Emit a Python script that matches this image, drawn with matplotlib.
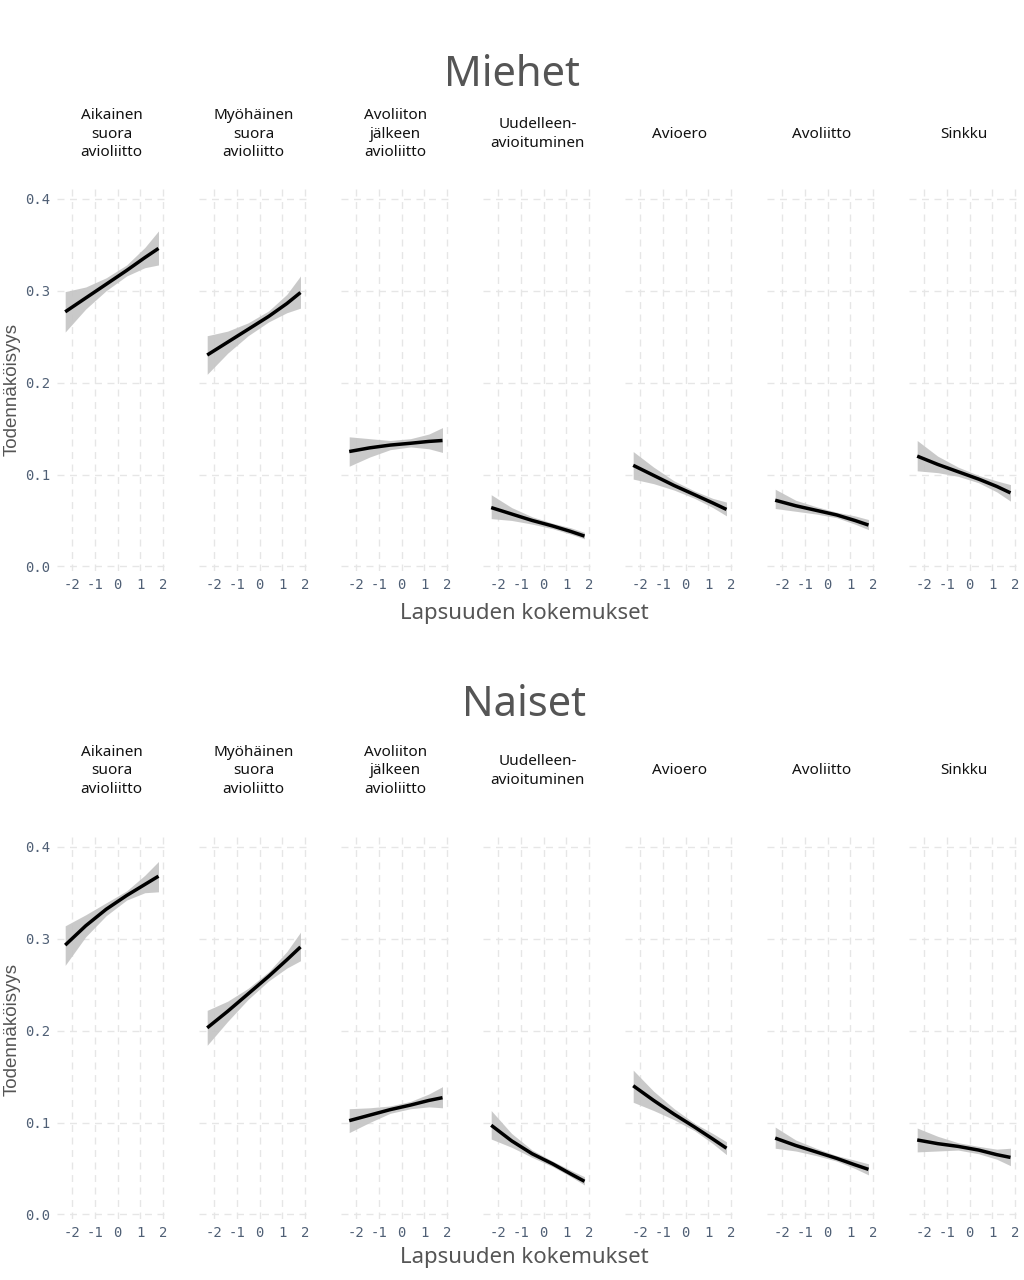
import numpy as np
import matplotlib
matplotlib.use('Agg')
import matplotlib.pyplot as plt

plt.rcParams['axes.unicode_minus'] = False

categories = ['Aikainen\nsuora\navioliitto', 'Myöhäinen\nsuora\navioliitto',
              'Avoliiton\njälkeen\navioliitto', 'Uudelleen-\navioituminen',
              'Avioero', 'Avoliitto', 'Sinkku']

x_vals = [-2.3, -1.4, -0.5, 0.4, 1.2, 1.8]

men_fit = [
    [0.277, 0.292, 0.307, 0.322, 0.336, 0.346],
    [0.230, 0.244, 0.258, 0.272, 0.286, 0.298],
    [0.125, 0.129, 0.132, 0.134, 0.136, 0.137],
    [0.064, 0.057, 0.050, 0.044, 0.038, 0.033],
    [0.110, 0.099, 0.088, 0.078, 0.069, 0.062],
    [0.072, 0.066, 0.061, 0.056, 0.050, 0.045],
    [0.120, 0.111, 0.103, 0.095, 0.087, 0.080],
]
men_lo = [
    [0.255, 0.280, 0.300, 0.316, 0.325, 0.328],
    [0.209, 0.232, 0.251, 0.266, 0.276, 0.281],
    [0.109, 0.119, 0.127, 0.130, 0.128, 0.124],
    [0.052, 0.050, 0.046, 0.041, 0.035, 0.030],
    [0.095, 0.090, 0.083, 0.074, 0.064, 0.055],
    [0.063, 0.060, 0.057, 0.053, 0.046, 0.040],
    [0.104, 0.102, 0.098, 0.091, 0.081, 0.071],
]
men_hi = [
    [0.299, 0.304, 0.314, 0.328, 0.347, 0.365],
    [0.251, 0.256, 0.265, 0.278, 0.296, 0.316],
    [0.141, 0.139, 0.137, 0.139, 0.144, 0.151],
    [0.078, 0.064, 0.054, 0.047, 0.042, 0.037],
    [0.125, 0.108, 0.093, 0.082, 0.074, 0.070],
    [0.084, 0.072, 0.065, 0.059, 0.055, 0.051],
    [0.137, 0.120, 0.108, 0.099, 0.093, 0.089],
]

women_fit = [
    [0.293, 0.314, 0.332, 0.347, 0.359, 0.368],
    [0.203, 0.221, 0.240, 0.259, 0.277, 0.291],
    [0.102, 0.108, 0.114, 0.119, 0.124, 0.127],
    [0.097, 0.080, 0.066, 0.055, 0.044, 0.036],
    [0.140, 0.124, 0.109, 0.095, 0.082, 0.072],
    [0.083, 0.075, 0.068, 0.061, 0.054, 0.049],
    [0.081, 0.077, 0.074, 0.070, 0.065, 0.062],
]
women_lo = [
    [0.271, 0.302, 0.325, 0.342, 0.350, 0.351],
    [0.184, 0.210, 0.234, 0.254, 0.268, 0.276],
    [0.089, 0.100, 0.110, 0.115, 0.117, 0.116],
    [0.082, 0.073, 0.062, 0.052, 0.041, 0.032],
    [0.122, 0.113, 0.103, 0.091, 0.077, 0.065],
    [0.072, 0.069, 0.064, 0.058, 0.050, 0.043],
    [0.068, 0.069, 0.070, 0.066, 0.060, 0.053],
]
women_hi = [
    [0.314, 0.326, 0.339, 0.352, 0.369, 0.384],
    [0.222, 0.232, 0.246, 0.264, 0.286, 0.307],
    [0.115, 0.116, 0.118, 0.123, 0.131, 0.139],
    [0.113, 0.088, 0.070, 0.058, 0.048, 0.041],
    [0.157, 0.134, 0.115, 0.099, 0.088, 0.079],
    [0.095, 0.081, 0.072, 0.064, 0.059, 0.055],
    [0.094, 0.085, 0.078, 0.074, 0.071, 0.072],
]

x_ticks = [-2, -1, 0, 1, 2]
y_ticks = [0.0, 0.1, 0.2, 0.3, 0.4]

W, H = 1024, 1280
fig = plt.figure(figsize=(W / 100, H / 100), dpi=100)
fig.patch.set_facecolor('white')

text_font = ['Noto Sans', 'DejaVu Sans']
ylab_font = ['Liberation Sans', 'DejaVu Sans']
mono_font = ['DejaVu Sans Mono']
tick_color = '#4f5f75'
label_color = '#555555'


def draw_group(fit, lo, hi, title, top_px, title_y, strip_y, xlab_y, ylab_y, title_x):
    for i in range(7):
        left = 57 + 142 * i
        ax = fig.add_axes([left / W, 1 - (top_px + 386) / H, 109 / W, 386 / H])
        ax.fill_between(x_vals, lo[i], hi[i], color='#c4c4c4', alpha=0.9, lw=0)
        ax.plot(x_vals, fit[i], color='black', lw=2.5, solid_capstyle='butt')
        ax.set_xlim(-2.66, 2.13)
        ax.set_ylim(-0.005, 0.415)
        ax.set_xticks(x_ticks)
        ax.set_yticks(y_ticks)
        ax.grid(True, color='#e6e6e6', lw=1, ls=(0, (5, 4)))
        ax.set_axisbelow(True)
        for s in ax.spines.values():
            s.set_visible(False)
        ax.tick_params(length=0, labelsize=10, labelcolor=tick_color, pad=5)
        for lab in ax.get_xticklabels() + ax.get_yticklabels():
            lab.set_family(mono_font)
        if i > 0:
            ax.set_yticklabels([])
        else:
            ax.set_yticklabels([f'{v:.1f}' for v in y_ticks])
        fig.text((left + 54.5) / W, 1 - strip_y / H, categories[i], ha='center', va='center',
                 fontsize=11, linespacing=1.3, family=text_font, color='#111111')
    fig.text(title_x / W, 1 - title_y / H, title, ha='center', va='center',
             fontsize=30, family=text_font, color=label_color)
    fig.text(524 / W, 1 - xlab_y / H, 'Lapsuuden kokemukset', ha='center', va='center',
             fontsize=16, family=text_font, color=label_color)
    fig.text(12 / W, 1 - ylab_y / H, 'Todennäköisyys', ha='center', va='center',
             rotation=90, fontsize=13.5, family=ylab_font, color=label_color)


draw_group(men_fit, men_lo, men_hi, 'Miehet', 185, 75, 134, 614, 390, 512)
draw_group(women_fit, women_lo, women_hi, 'Naiset', 833, 705, 771, 1258, 1030, 524)

fig.savefig('out.png', dpi=100)
